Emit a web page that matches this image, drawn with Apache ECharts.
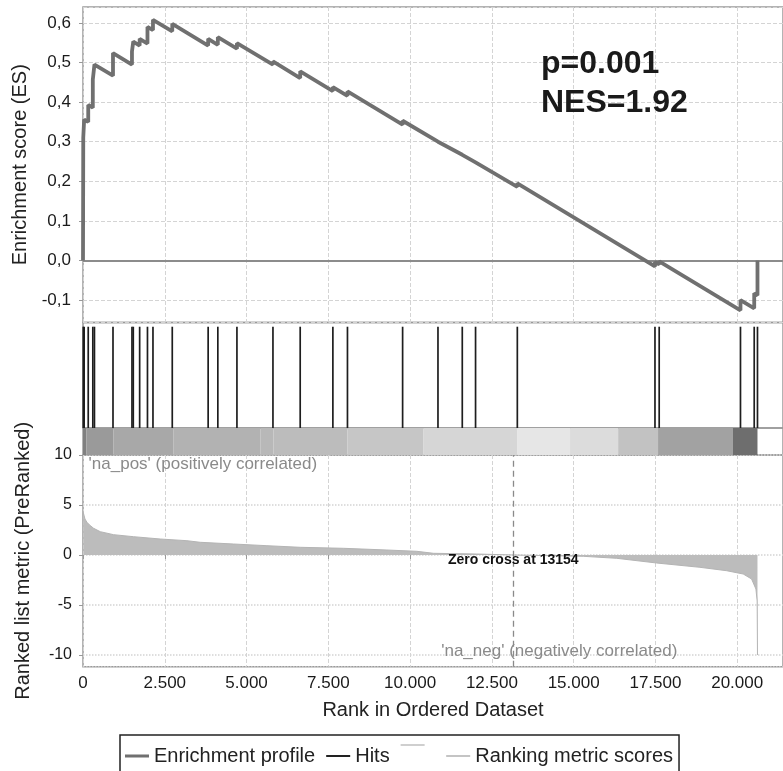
<!DOCTYPE html>
<html>
<head>
<meta charset="utf-8">
<script src="https://cdn.jsdelivr.net/npm/echarts@6/dist/echarts.min.js"></script>
<style>
  html, body { margin: 0; padding: 0; background: #fff; }
  #chart { width: 783px; height: 771px; }
</style>
</head>
<body>
<div id="chart"></div>
<script>
// gene set hits in the ranked list, with running ES just before / after each hit
const hitRanks = [8, 35, 160, 300, 350, 917, 1497, 1537, 1732, 1971, 2139, 2729, 3826, 4122, 4706,
  5807, 6640, 7639, 8085, 9771, 10852, 11595, 12001, 13278, 17486, 17615, 20100, 20520, 20620]
const esBefore = [0.000, 0.309, 0.350, 0.386, 0.455, 0.467, 0.495, 0.526, 0.543, 0.548, 0.582, 0.579, 0.543, 0.545, 0.535,
  0.495, 0.461, 0.428, 0.416, 0.343, 0.300, 0.267, 0.248, 0.186, -0.015, -0.010, -0.126, -0.121, -0.088]
const esAfter = [0.310, 0.356, 0.393, 0.457, 0.495, 0.524, 0.528, 0.553, 0.560, 0.590, 0.608, 0.598, 0.560, 0.564, 0.549,
  0.503, 0.478, 0.438, 0.427, 0.353, 0.304, 0.269, 0.250, 0.195, -0.004, -0.002, -0.100, -0.083, 0.000]

// ranked list metric profile
const metricRank = [0, 20, 60, 122, 200, 325, 529, 936, 1546, 2362, 3177, 3584, 4602, 5622, 6640, 7962, 9288,
  10205, 10712, 12038, 13154, 15295, 16315, 17537, 18860, 19676, 20184, 20440, 20572, 20610, 20620]
const metricScore = [4.4, 4.1, 3.6, 3.27, 3.0, 2.67, 2.33, 2.03, 1.83, 1.6, 1.43, 1.27, 1.1, 0.93, 0.77, 0.67, 0.5,
  0.37, 0.17, 0.1, 0, -0.13, -0.33, -0.8, -1.23, -1.57, -1.9, -2.4, -3.4, -4.6, -10]

// heat bar bands (gray level of each band)
const heatStart = [0, 100, 935, 2760, 5420, 5820, 8080, 10400, 13270, 14890, 16360, 17580, 19870]
const heatEnd = [100, 935, 2760, 5420, 5820, 8080, 10400, 13270, 14890, 16360, 17580, 19870, 20620]
const heatShade = [128, 154, 168, 178, 184, 188, 198, 214, 230, 220, 194, 162, 110]

const xTickStep = 2500
const zeroCross = 13154

const X_MAX = 21400
const HIT_TOP = 0.96
const FONT = 'Liberation Sans'

const esData = [[0, 0]]
hitRanks.forEach((r, i) => {
  esData.push([r, esBefore[i]])
  esData.push([r, esAfter[i]])
})
const metricData = metricRank.map((r, i) => [r, metricScore[i]])
const heatData = heatStart.map((s, i) => [s, heatEnd[i], heatShade[i]])
const hitData = hitRanks.map(r => [r])

const thousands = v => String(v).replace(/\B(?=(\d{3})+(?!\d))/g, '.')
const gridBox = { show: true, borderColor: '#9a9a9a', borderWidth: 1.5, left: 83, right: 0 }
const dashed = { show: true, lineStyle: { color: '#d4d4d4', type: 'dashed', width: 1 } }

function xAxisFor(gridIndex, showLabels) {
  return {
    type: 'value',
    gridIndex: gridIndex,
    min: 0,
    max: X_MAX,
    interval: xTickStep,
    axisLine: { show: false },
    axisTick: { show: showLabels, length: 4, lineStyle: { color: '#999' } },
    axisLabel: {
      show: showLabels,
      showMaxLabel: false,
      margin: 8,
      fontSize: 17,
      fontFamily: FONT,
      color: '#1a1a1a',
      formatter: thousands
    },
    splitLine: gridIndex === 0 || gridIndex === 3 ? dashed : { show: false },
    name: showLabels ? 'Rank in Ordered Dataset' : '',
    nameLocation: 'middle',
    nameGap: 34,
    nameTextStyle: { fontSize: 20, fontFamily: FONT, color: '#222' }
  }
}

const iconLine = (y, h) => 'path://M0,0h0.01v0.01h-0.01z M0,' + y + 'h24v' + h + 'h-24z M23.99,23.99h0.01v0.01h-0.01z'

const chart = echarts.init(document.getElementById('chart'))
chart.setOption({
  animation: false,
  backgroundColor: '#ffffff',
  title: {
    text: 'p=0.001\nNES=1.92',
    left: 541,
    top: 45,
    padding: 0,
    textStyle: { fontSize: 32, fontWeight: 'bold', color: '#1a1a1a', lineHeight: 39, fontFamily: FONT }
  },
  legend: {
    left: 120,
    top: 735,
    padding: [9, 6, 20, 5],
    borderColor: '#222',
    borderWidth: 1.5,
    itemWidth: 24,
    itemHeight: 24,
    itemGap: 11,
    selectedMode: false,
    textStyle: { fontSize: 20, color: '#222', fontFamily: FONT },
    data: [
      { name: 'Enrichment profile', icon: iconLine(10.5, 3), itemStyle: { color: '#707070' } },
      { name: 'Hits', icon: iconLine(11, 2), itemStyle: { color: '#222' } },
      { name: ' ', icon: 'path://M0,0h24v2h-24z M23.99,23.99h0.01v0.01h-0.01z', itemStyle: { color: '#cfcfcf' } },
      { name: 'Ranking metric scores', icon: iconLine(11, 2), itemStyle: { color: '#c4c4c4' } }
    ]
  },
  grid: [
    Object.assign({ top: 7, height: 315.5 }, gridBox),
    Object.assign({ top: 322.5, height: 105.5 }, gridBox),
    Object.assign({ top: 428, height: 27 }, gridBox),
    Object.assign({ top: 455, height: 211.7 }, gridBox)
  ],
  xAxis: [xAxisFor(0, false), xAxisFor(1, false), xAxisFor(2, false), xAxisFor(3, true)],
  yAxis: [
    {
      type: 'value',
      gridIndex: 0,
      min: -0.1567,
      max: 0.6404,
      splitNumber: 7,
      axisLine: { show: false },
      axisTick: { show: true, length: 4, lineStyle: { color: '#999' } },
      axisLabel: {
        showMinLabel: false,
        showMaxLabel: false,
        margin: 12,
        fontSize: 17,
        fontFamily: FONT,
        color: '#1a1a1a',
        formatter: v => v.toFixed(1).replace('.', ',')
      },
      splitLine: dashed,
      name: 'Enrichment score (ES)',
      nameLocation: 'middle',
      nameGap: 50,
      nameTextStyle: { fontSize: 20, fontFamily: FONT, color: '#222' }
    },
    { type: 'value', gridIndex: 1, min: 0, max: 1, show: false },
    { type: 'value', gridIndex: 2, min: 0, max: 1, show: false },
    {
      type: 'value',
      gridIndex: 3,
      min: -11.17,
      max: 10,
      splitNumber: 4,
      axisLine: { show: false },
      axisTick: { show: true, length: 4, lineStyle: { color: '#999' } },
      axisLabel: {
        showMinLabel: false,
        margin: 11,
        fontSize: 16,
        fontFamily: FONT,
        color: '#1a1a1a'
      },
      splitLine: { show: true, lineStyle: { color: '#d4d4d4', type: 'dotted', width: 1.5 } },
      name: 'Ranked list metric (PreRanked)',
      nameLocation: 'middle',
      nameGap: 50,
      nameTextStyle: { fontSize: 20, fontFamily: FONT, color: '#222' }
    }
  ],
  series: [
    {
      name: 'Enrichment profile',
      type: 'line',
      xAxisIndex: 0,
      yAxisIndex: 0,
      data: esData,
      symbol: 'none',
      z: 5,
      lineStyle: { color: '#707070', width: 3.8 },
      itemStyle: { color: '#707070' },
      markLine: {
        silent: true,
        symbol: 'none',
        label: { show: false },
        lineStyle: { color: '#8c8c8c', type: 'solid', width: 2 },
        data: [{ yAxis: 0 }]
      }
    },
    {
      name: 'Hits',
      type: 'custom',
      xAxisIndex: 1,
      yAxisIndex: 1,
      data: hitData,
      encode: { x: 0 },
      itemStyle: { color: '#222' },
      renderItem: (params, api) => {
        const bottom = api.coord([api.value(0), 0])
        const top = api.coord([api.value(0), HIT_TOP])
        return {
          type: 'line',
          shape: { x1: bottom[0], y1: bottom[1], x2: top[0], y2: top[1] },
          style: { stroke: '#1e1e1e', lineWidth: 1.7 }
        }
      }
    },
    {
      name: ' ',
      type: 'custom',
      xAxisIndex: 2,
      yAxisIndex: 2,
      data: heatData,
      encode: { x: [0, 1] },
      itemStyle: { color: '#cfcfcf' },
      renderItem: (params, api) => {
        const p0 = api.coord([api.value(0), 1])
        const p1 = api.coord([api.value(1), 0])
        const g = api.value(2)
        return {
          type: 'rect',
          shape: { x: p0[0], y: p0[1], width: p1[0] - p0[0], height: p1[1] - p0[1] },
          style: { fill: 'rgb(' + g + ',' + g + ',' + g + ')' }
        }
      }
    },
    {
      name: 'Ranking metric scores',
      type: 'line',
      xAxisIndex: 3,
      yAxisIndex: 3,
      data: metricData,
      symbol: 'none',
      lineStyle: { color: '#b4b4b4', width: 1 },
      itemStyle: { color: '#c4c4c4' },
      areaStyle: { color: '#bcbcbc', opacity: 1 },
      markLine: {
        silent: true,
        symbol: 'none',
        label: { show: false },
        lineStyle: { color: '#8a8a8a', type: [6, 4], width: 1.3 },
        data: [{ xAxis: zeroCross }]
      },
      markPoint: {
        silent: true,
        symbol: 'circle',
        symbolSize: 0,
        data: [
          {
            coord: [zeroCross, 0],
            label: {
              show: true, position: 'inside', offset: [0, 5],
              formatter: 'Zero cross at ' + zeroCross,
              fontSize: 14, fontWeight: 'bold', color: '#111', fontFamily: FONT
            }
          },
          {
            coord: [171, 9.1],
            label: {
              show: true, position: 'right', distance: 0,
              formatter: "'na_pos' (positively correlated)",
              fontSize: 17, color: '#8a8a8a', fontFamily: FONT
            }
          },
          {
            coord: [14560, -9.6],
            label: {
              show: true, position: 'inside',
              formatter: "'na_neg' (negatively correlated)",
              fontSize: 17, color: '#8a8a8a', fontFamily: FONT
            }
          }
        ]
      }
    }
  ]
})
</script>
</body>
</html>
